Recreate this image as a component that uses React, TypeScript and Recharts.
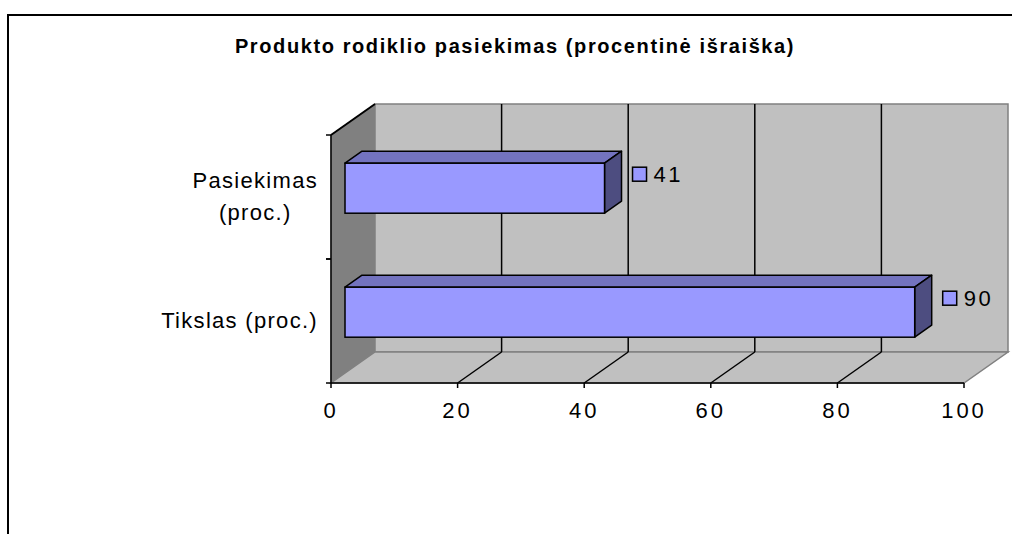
import React from 'react';
import { BarChart, Bar, XAxis, YAxis, CartesianGrid, LabelList } from 'recharts';

// ---- data ----
const categories: string[] = ['Pasiekimas\n(proc.)', 'Tikslas (proc.)'];
const values: number[] = [41, 90];
const xTicks: number[] = [0, 20, 40, 60, 80, 100];
const title = 'Produkto rodiklio pasiekimas (procentinė išraiška)';

const data = categories.map((name, i) => ({ name, value: values[i] }));

// ---- style constants ----
const FONT = '"Liberation Sans", Arial, sans-serif';
const WALL_DX = 44;
const WALL_DY = -31;
const BAR_OX = 14;
const BAR_OY = -9;
const BAR_DX = 17;
const BAR_DY = -12;
const FRONT = '#9999ff';
const TOP = '#7373bf';
const SIDE = '#4d4d80';

const renderVertical = (p: any) => {
  const { x1, y1, y2, index, x, y, width, height } = p;
  const els: React.ReactNode[] = [];
  if (index === 0) {
    els.push(
      <polygon
        key="side"
        points={`${x},${y} ${x + WALL_DX},${y + WALL_DY} ${x + WALL_DX},${y + height + WALL_DY} ${x},${y + height}`}
        fill="#808080"
        stroke="#808080"
      />
    );
    els.push(
      <rect key="back" x={x + WALL_DX} y={y + WALL_DY} width={width} height={height} fill="#c0c0c0" stroke="#808080" strokeWidth={1.5} />
    );
    els.push(
      <polygon
        key="floor"
        points={`${x},${y + height} ${x + WALL_DX},${y + height + WALL_DY} ${x + width + WALL_DX},${y + height + WALL_DY} ${x + width},${y + height}`}
        fill="#c0c0c0"
        stroke="#808080"
        strokeWidth={1.5}
      />
    );
    els.push(<line key="sidetop" x1={x} y1={y} x2={x + WALL_DX} y2={y + WALL_DY} stroke="#000" strokeWidth={2} />);
  }
  const isEdge = Math.abs(x1 - x) < 1 || Math.abs(x1 - (x + width)) < 1;
  if (!isEdge) {
    els.push(<line key="g" x1={x1 + WALL_DX} y1={y1 + WALL_DY} x2={x1 + WALL_DX} y2={y2 + WALL_DY} stroke="#000" strokeWidth={1.5} />);
    els.push(<line key="f" x1={x1} y1={y2} x2={x1 + WALL_DX} y2={y2 + WALL_DY} stroke="#000" strokeWidth={1.5} />);
  }
  return <g key={`v-${index}`}>{els}</g>;
};

const Bar3D = (p: any) => {
  const { x, y, width, height } = p;
  const fx = x + BAR_OX;
  const fy = y + BAR_OY;
  const top = `${fx},${fy} ${fx + BAR_DX},${fy + BAR_DY} ${fx + width + BAR_DX},${fy + BAR_DY} ${fx + width},${fy}`;
  const side = `${fx + width},${fy} ${fx + width + BAR_DX},${fy + BAR_DY} ${fx + width + BAR_DX},${fy + height + BAR_DY} ${fx + width},${fy + height}`;
  return (
    <g>
      <polygon points={top} fill={TOP} stroke="#000" strokeWidth={1.5} strokeLinejoin="round" />
      <polygon points={side} fill={SIDE} stroke="#000" strokeWidth={1.5} strokeLinejoin="round" />
      <rect x={fx} y={fy} width={width} height={height} fill={FRONT} stroke="#000" strokeWidth={1.5} />
    </g>
  );
};

const ValueLabel = (p: any) => {
  const vb = p.viewBox && typeof p.viewBox.x === 'number' ? p.viewBox : p;
  const { x, y, width, height } = vb;
  const sx = x + width + 42;
  const cy = y + height / 2 - 23;
  return (
    <g>
      <rect x={sx} y={cy - 7} width={14} height={14} fill={FRONT} stroke="#000" strokeWidth={1.5} />
      <text x={sx + 21} y={cy} dy="0.36em" fontSize={22} fontFamily={FONT} letterSpacing={2.5} fill="#000">
        {p.value}
      </text>
    </g>
  );
};

const CatTick = (p: any) => {
  const { x, y, payload } = p;
  const lines = String(payload.value).split('\n');
  const half = payload && typeof payload.offset === 'number' ? payload.offset : 0;
  return (
    <g>
      <foreignObject x={x - 13 - 300} y={y - 60} width={300} height={120}>
        <div style={{ height: '100%', display: 'flex', justifyContent: 'flex-end', alignItems: 'center' }}>
          <div style={{ textAlign: 'center', fontFamily: FONT, fontSize: 22, lineHeight: '32px', letterSpacing: 1.3, color: '#000', whiteSpace: 'nowrap' }}>
            {lines.map((l, i) => (
              <div key={i}>{l}</div>
            ))}
          </div>
        </div>
      </foreignObject>
      {half ? (
        <g>
          <line x1={x - 5} y1={y - half} x2={x} y2={y - half} stroke="#000" strokeWidth={1.5} />
          <line x1={x - 5} y1={y + half} x2={x} y2={y + half} stroke="#000" strokeWidth={1.5} />
        </g>
      ) : null}
    </g>
  );
};

const NumTick = (p: any) => (
  <text x={p.x} y={p.y} dy="0.71em" textAnchor="middle" fontSize={22} fontFamily={FONT} letterSpacing={3} fill="#000">
    {p.payload.value}
  </text>
);

export default function App() {
  return (
    <div style={{ position: 'absolute', left: 0, top: 0, width: 1012, height: 534, overflow: 'hidden', background: '#fff' }}>
      <div
        style={{
          position: 'absolute',
          left: 7,
          top: 14,
          width: 2000,
          height: 2000,
          borderLeft: '2px solid #000',
          borderTop: '2px solid #000',
        }}
      />
      <div
        style={{
          position: 'absolute',
          left: 15,
          top: 34,
          width: 1000,
          textAlign: 'center',
          fontFamily: FONT,
          fontWeight: 'bold',
          fontSize: 20,
          lineHeight: '24px',
          letterSpacing: 1.6,
          color: '#000',
          whiteSpace: 'nowrap',
        }}
      >
        {title}
      </div>
      <div style={{ position: 'absolute', left: 0, top: 0 }}>
        <BarChart
          width={1012}
          height={534}
          data={data}
          layout="vertical"
          margin={{ top: 135, right: 48, bottom: 111, left: 131 }}
          barCategoryGap="30%"
        >
          <CartesianGrid horizontal={false} vertical={renderVertical} stroke="none" />
          <XAxis
            type="number"
            domain={[0, 100]}
            ticks={xTicks}
            interval={0}
            height={40}
            tickSize={5}
            tickMargin={14}
            axisLine={{ stroke: '#000', strokeWidth: 1.5 }}
            tickLine={{ stroke: '#000', strokeWidth: 1.5 }}
            tick={NumTick}
          />
          <YAxis
            type="category"
            dataKey="name"
            width={200}
            tickSize={0}
            tickMargin={0}
            tickLine={false}
            axisLine={{ stroke: '#000', strokeWidth: 1.5 }}
            tick={CatTick}
            interval={0}
          />
          <Bar dataKey="value" isAnimationActive={false} shape={Bar3D}>
            <LabelList dataKey="value" content={ValueLabel} />
          </Bar>
        </BarChart>
      </div>
    </div>
  );
}
